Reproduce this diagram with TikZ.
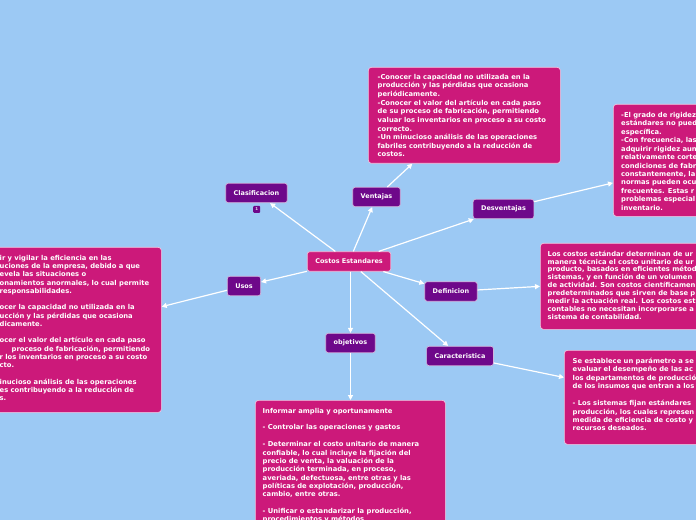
\documentclass[tikz,border=0pt]{standalone}
\usepackage{fontspec}
\newfontfamily\dv{DejaVu Sans}
\usetikzlibrary{arrows.meta,calc}
\definecolor{bgc}{RGB}{156,201,244}
\definecolor{pinkc}{RGB}{204,25,122}
\definecolor{purc}{RGB}{110,8,138}
\tikzset{
  topic/.style={rounded corners=2.5bp, fill=purc, draw=white!70!purc, line width=0.7bp, text=white,
    font=\dv\bfseries\fontsize{6.5}{8}\selectfont, minimum height=19.5bp, inner xsep=8bp, inner ysep=0pt},
  pbox/.style={rounded corners=3bp, fill=pinkc, draw=white!75!pinkc, line width=0.7bp, inner sep=0pt, anchor=north west},
  ptext/.style={anchor=north west, inner sep=0pt, align=left, text=white,
    font=\dv\bfseries\fontsize{6.8}{8.5}\selectfont},
  badge/.style={fill=purc, rounded corners=1bp, minimum size=7bp, inner sep=0pt, text=white!85!purc,
    font=\dv\bfseries\fontsize{4}{4}\selectfont},
  conn/.style={draw=white, line width=1.2bp, -{Triangle[length=5bp,width=5bp]}}
}
\begin{document}
\begin{tikzpicture}[x=1bp,y=-1bp]
\useasboundingbox (0,0) rectangle (696,520);
\fill[bgc] (0,0) rectangle (696,520);
\clip (0,0) rectangle (696,520);

% boxes
\node[pbox, minimum width=192bp, minimum height=96bp] (vbox) at (368,67) {};
\node[ptext, font=\dv\bfseries\fontsize{6.8}{8.67}\selectfont] (vtext) at (377.5,72.5) {\rule{0pt}{6.5bp}-Conocer la capacidad no utilizada en la\\
producción y las pérdidas que ocasiona\\
periódicamente.\\
-Conocer el valor del artículo en cada paso\\
de su proceso de fabricación, permitiendo\\
valuar los inventarios en proceso a su costo\\
correcto.\\
-Un minucioso análisis de las operaciones\\
fabriles contribuyendo a la reducción de\\
costos.};

\node[pbox, minimum width=120bp, minimum height=112bp] (dbox) at (613,104) {};
\node[ptext] (dtext) at (621,110.5) {\rule{0pt}{6.5bp}-El grado de rigidez\\
estándares no pued\\
específica.\\
-Con frecuencia, las\\
adquirir rigidez aun\\
relativamente corte\\
condiciones de fabr\\
constantemente, la\\
normas pueden ocu\\
frecuentes. Estas r\\
problemas especial\\
inventario.};

\node[pbox, minimum width=180bp, minimum height=86bp] (fbox) at (540,243) {};
\node[ptext, font=\dv\bfseries\fontsize{6.8}{7.9}\selectfont] (ftext) at (547.5,249.5) {\rule{0pt}{6.5bp}Los costos estándar determinan de ur\\
manera técnica el costo unitario de ur\\
producto, basados en eficientes métod\\
sistemas, y en función de un volumen\\
de actividad. Son costos científicamen\\
predeterminados que sirven de base p\\
medir la actuación real. Los costos est\\
contables no necesitan incorporarse a\\
sistema de contabilidad.};

\node[pbox, minimum width=150bp, minimum height=94bp] (cbox) at (564,350) {};
\node[ptext] (ctext) at (572.5,356.5) {\rule{0pt}{6.5bp}Se establece un parámetro a se\\
evaluar el desempeño de las ac\\
los departamentos de producció\\
de los insumos que entran a los\\
\mbox{}\\
- Los sistemas fijan estándares\\
producción, los cuales represen\\
medida de eficiencia de costo y\\
recursos deseados.};

\node[pbox, minimum width=190bp, minimum height=140bp] (obox) at (255,400) {};
\node[ptext, font=\dv\bfseries\fontsize{6.8}{8.4}\selectfont] (otext) at (262.5,406.5) {\rule{0pt}{6.5bp}Informar amplia y oportunamente\\
\mbox{}\\
- Controlar las operaciones y gastos\\
\mbox{}\\
- Determinar el costo unitario de manera\\
confiable, lo cual incluye la fijación del\\
precio de venta, la valuación de la\\
producción terminada, en proceso,\\
averiada, defectuosa, entre otras y las\\
políticas de explotación, producción,\\
cambio, entre otras.\\
\mbox{}\\
- Unificar o estandarizar la producción,\\
procedimientos y métodos};

\node[pbox, minimum width=221bp, minimum height=165bp] (ubox) at (-60,247) {};
\node[ptext, font=\dv\bfseries\fontsize{6.8}{8.3}\selectfont] (utext) at (-0.5,253.5) {\rule{0pt}{6.5bp}ir y vigilar la eficiencia en las\\
uciones de la empresa, debido a que\\
evela las situaciones o\\
onamientos anormales, lo cual permite\\
responsabilidades.\\
\mbox{}\\
ocer la capacidad no utilizada en la\\
ucción y las pérdidas que ocasiona\\
dicamente.\\
\mbox{}\\
ocer el valor del artículo en cada paso\\
\hspace*{12bp}proceso de fabricación, permitiendo\\
r los inventarios en proceso a su costo\\
cto.\\
\mbox{}\\
inucioso análisis de las operaciones\\
es contribuyendo a la reducción de\\
s.};

% topics
\node[topic, fill=pinkc, draw=white!70!pinkc] (ce) at (349,261.5) {Costos Estandares};
\node[topic] (clas) at (256.5,193) {Clasificacion};
\node[badge] (bdg) at (256.7,209.3) {1};
\node[topic] (vent) at (376.5,197) {Ventajas};
\node[topic] (desv) at (503.5,209) {Desventajas};
\node[topic] (defi) at (451,291.5) {Definicion};
\node[topic] (cara) at (460,356) {Caracteristica};
\node[topic] (usos) at (244,286) {Usos};
\node[topic] (obje) at (350.5,343) {objetivos};

% connectors
\draw[conn] (ce) -- (clas);
\draw[conn] (ce) -- (vent);
\draw[conn] (ce) -- (desv);
\draw[conn] (ce) -- (defi);
\draw[conn] (ce) -- (cara);
\draw[conn] (ce) -- (usos);
\draw[conn] (ce.south -| obje) -- (obje);
\draw[conn] (vent) -- (vbox);
\draw[conn] (desv) -- ($(dbox.north west)!0.7!(dbox.south west)$);
\draw[conn] (defi) -- (fbox.west);
\draw[conn] (cara) -- ($(cbox.north west)!0.29!(cbox.south west)$);
\draw[conn] (usos) -- ($(ubox.north east)!0.36!(ubox.south east)$);
\draw[conn] (obje) -- (obje |- obox.north);
\end{tikzpicture}
\end{document}
